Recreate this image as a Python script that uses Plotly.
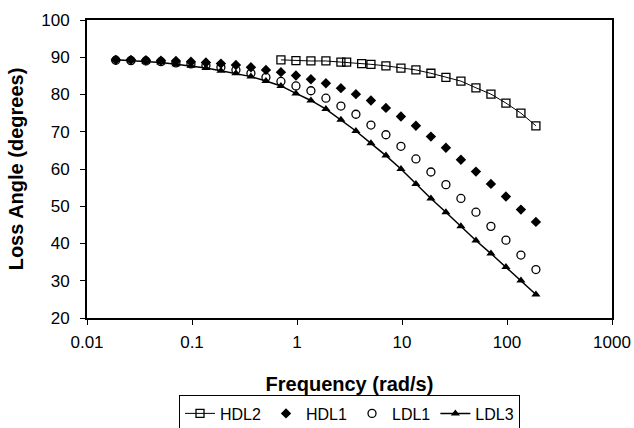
import plotly.graph_objects as go

# Frequencies (rad/s)
freq = [0.0188, 0.0262, 0.0364, 0.0506, 0.0703, 0.0977, 0.1357, 0.1885, 0.262, 0.364,
        0.506, 0.703, 0.977, 1.357, 1.885, 2.62, 3.64, 5.06, 7.03, 9.77,
        13.57, 18.85, 26.2, 36.4, 50.6, 70.3, 97.7, 135.7, 188.5]
freq_hdl2 = [0.703, 0.977, 1.357, 1.885, 2.62, 2.97, 4.13, 5.06, 7.03, 9.77,
             13.57, 18.85, 26.2, 36.4, 50.6, 70.3, 97.7, 135.7, 188.5]

hdl2 = [89.3, 89.1, 89.0, 89.0, 88.7, 88.7, 88.3, 88.1, 87.7, 87.1,
        86.6, 85.7, 84.6, 83.6, 81.8, 80.1, 77.7, 75.0, 71.6]
hdl1 = [89.3, 89.3, 89.2, 89.1, 89.0, 88.8, 88.6, 88.3, 87.9, 87.3,
        86.6, 86.0, 85.1, 84.1, 83.0, 81.7, 80.1, 78.4, 76.4, 74.1,
        71.6, 68.7, 65.7, 62.5, 59.3, 56.0, 52.6, 49.1, 45.8]
ldl1 = [89.2, 89.1, 89.0, 88.8, 88.5, 88.2, 87.8, 87.3, 86.6, 85.7,
        84.6, 83.5, 82.3, 81.0, 79.0, 76.9, 74.7, 71.8, 69.2, 66.1,
        62.7, 59.2, 55.8, 52.1, 48.4, 44.6, 40.9, 36.9, 33.0]
ldl3 = [89.3, 89.1, 88.8, 88.6, 88.1, 87.7, 87.1, 86.4, 85.7, 84.8,
        83.6, 82.3, 80.3, 78.4, 76.1, 73.2, 70.2, 66.9, 63.6, 60.0,
        56.0, 52.1, 48.4, 44.6, 40.8, 37.3, 33.7, 30.1, 26.3]

x_tickvals = [0.01, 0.1, 1, 10, 100, 1000]
x_ticktext = ["0.01", "0.1", "1", "10", "100", "1000"]

FONT = "Liberation Sans, Arial, sans-serif"

fig = go.Figure()
fig.add_trace(go.Scatter(
    x=freq_hdl2, y=hdl2, name="HDL2", mode="lines+markers",
    line=dict(color="black", width=1),
    marker=dict(symbol="square-open", size=8, color="black", line=dict(width=1.3))))
fig.add_trace(go.Scatter(
    x=freq, y=hdl1, name="HDL1", mode="markers",
    marker=dict(symbol="diamond", size=8, color="black")))
fig.add_trace(go.Scatter(
    x=freq, y=ldl1, name="LDL1", mode="markers",
    marker=dict(symbol="circle-open", size=8, color="black", line=dict(width=1.3))))
fig.add_trace(go.Scatter(
    x=freq, y=ldl3, name="LDL3", mode="lines+markers",
    line=dict(color="black", width=1.5),
    marker=dict(symbol="triangle-up", size=8, color="black")))

fig.update_layout(
    width=634, height=428,
    margin=dict(l=87, r=22, t=20, b=110, autoexpand=False),
    paper_bgcolor="white", plot_bgcolor="white",
    font=dict(family=FONT, color="black", size=17),
    showlegend=True,
    legend=dict(orientation="h", x=0.5, xanchor="center", y=-0.26, yanchor="top",
                bordercolor="black", borderwidth=1, bgcolor="white",
                font=dict(size=16, family=FONT), itemwidth=30,
                tracegroupgap=0),
)
fig.update_xaxes(
    type="log", range=[-2, 3],
    tickvals=x_tickvals, ticktext=x_ticktext,
    ticks="outside", ticklen=5, tickwidth=1, tickcolor="black",
    ticklabelstandoff=3,
    showline=True, linecolor="black", linewidth=2, mirror=True,
    showgrid=False, zeroline=False, automargin=False,
    title=dict(text="<b>Frequency (rad/s)</b>", font=dict(size=20, family=FONT), standoff=26),
)
fig.update_yaxes(
    range=[20, 100], dtick=10,
    ticks="outside", ticklen=5, tickwidth=1, tickcolor="black",
    ticklabelstandoff=7,
    showline=True, linecolor="black", linewidth=2, mirror=True,
    showgrid=False, zeroline=False, automargin=False,
    title=dict(text="<b>Loss Angle (degrees)</b>", font=dict(size=20, family=FONT), standoff=12),
)

fig.write_html("out.html")
